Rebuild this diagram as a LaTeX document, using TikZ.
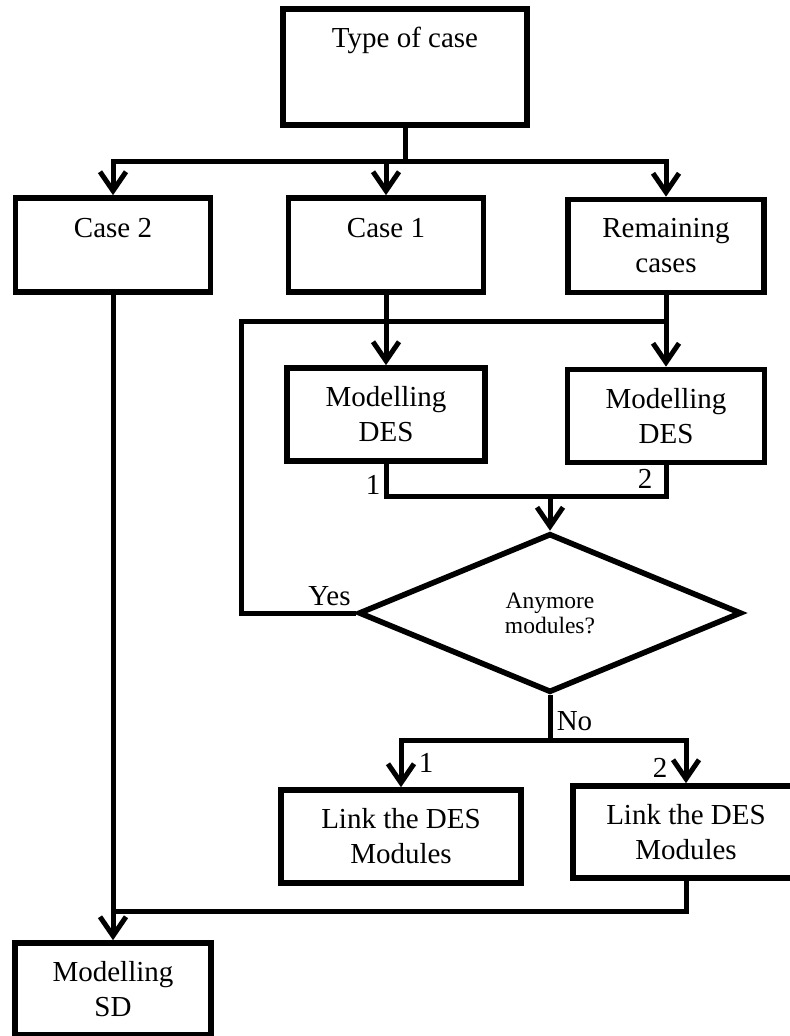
\documentclass[tikz,border=0pt]{standalone}
\usepackage{fontspec}
\setmainfont{Liberation Serif}
\usetikzlibrary{arrows.meta,shapes.geometric}
\tikzset{
  flow box/.style={rectangle,draw=black,fill=white,line width=2.8pt,
    inner sep=0pt,align=center,font=\fontsize{14.5}{17.5}\selectfont},
  flow decision/.style={diamond,draw=black,fill=white,line width=2.8pt,
    inner sep=0pt,align=center,font=\fontsize{11.75}{12.5}\selectfont},
  flow line/.style={line width=2.5pt,line join=miter},
  flow arrow/.style={-{Straight Barb[length=9.5pt,width=13pt]},
    line width=2.5pt,line join=miter},
  flow label/.style={font=\fontsize{14.5}{17.5}\selectfont,
    inner sep=0pt,anchor=base}
}
\begin{document}
\begin{tikzpicture}[x=0.5pt,y=-0.5pt]
    \useasboundingbox (0,0) rectangle (790,1036);
    \coordinate (split) at (405,162);
    \coordinate (loop) at (241,322);
    \coordinate (merge) at (550,496);
    \coordinate (nosplit) at (550,740);
    \coordinate (join) at (113,911);
    \node[flow box,minimum width=122pt,minimum height=58pt] (type)
      at (405,67) {Type of case\\[12.5pt]~};
    \node[flow box,minimum width=97.5pt,minimum height=47pt] (case2)
      at (113,245) {Case 2\\~};
    \node[flow box,minimum width=97.5pt,minimum height=47pt] (case1)
      at (386,245) {Case 1\\~};
    \node[flow box,minimum width=98pt,minimum height=46.5pt] (remain)
      at (666,246) {Remaining\\cases};
    \node[flow box,minimum width=99pt,minimum height=46.5pt] (des1)
      at (386,414.5) {Modelling\\DES};
    \node[flow box,minimum width=98.5pt,minimum height=46.5pt] (des2)
      at (666,416) {Modelling\\DES};
    \node[flow decision,minimum width=191.5pt,minimum height=79.5pt]
      (decide) at (550,613) {Anymore\\modules?};
    \node[flow box,minimum width=120pt,minimum height=46.5pt] (link1)
      at (401,836.5) {Link the DES\\Modules};
    \node[flow box,minimum width=113pt,minimum height=46pt] (link2)
      at (686,832) {Link the DES\\Modules};
    \node[flow box,minimum width=98pt,minimum height=46pt] (sd)
      at (113,989) {Modelling\\SD};
    % split into the cases
    \draw[flow line] (type) -- (split);
    \draw[flow arrow] (split) -| (case2);
    \draw[flow arrow] (split) -| (case1);
    \draw[flow arrow] (split) -| (remain);
    \draw[flow arrow] (case1) -- (des1);
    \draw[flow arrow] (remain) -- (des2);
    % modules loop
    \draw[flow line] (des1) |- (merge);
    \draw[flow line] (des2) |- (merge);
    \draw[flow arrow] (merge) -- (decide);
    \draw[flow line] (decide.west) -| (loop) -- (loop -| des2);
    \draw[flow line] (decide) -- (nosplit);
    \draw[flow arrow] (nosplit) -| (link1);
    \draw[flow arrow] (nosplit) -| (link2);
    \draw[flow line] (link2) |- (join);
    \draw[flow arrow] (case2) -- (sd);
    \node[flow label] (yes) at (329.5,605) {Yes};
    \node[flow label] (no) at (574.5,730) {No};
    \node[flow label] (desone) at (373,494) {1};
    \node[flow label] (destwo) at (645,488) {2};
    \node[flow label] (linkone) at (426,772) {1};
    \node[flow label] (linktwo) at (660,777) {2};
  \end{tikzpicture}
\end{document}
